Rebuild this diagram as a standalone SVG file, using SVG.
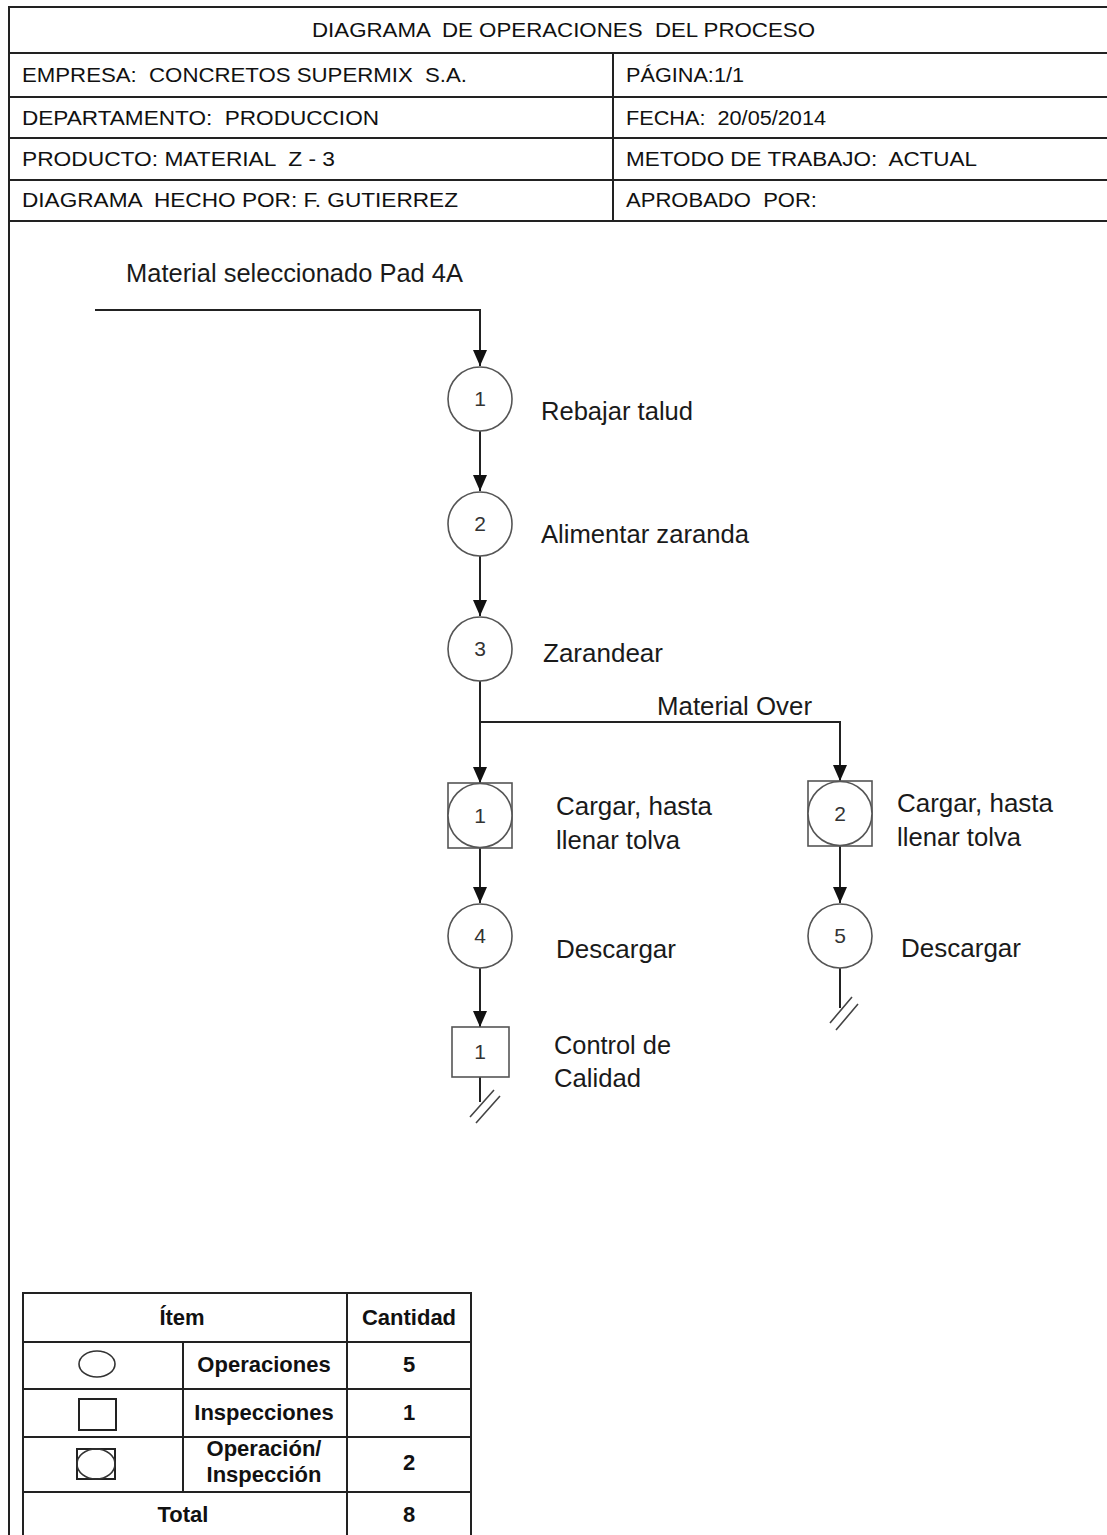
<svg xmlns="http://www.w3.org/2000/svg" width="1107" height="1535" viewBox="0 0 1107 1535">
<style>
.hd{font-family:"Liberation Sans",Arial,sans-serif;font-size:20px;fill:#111;white-space:pre}
.lb{font-family:"Liberation Sans",Arial,sans-serif;font-size:25px;fill:#1a1a1a}
.num{font-family:"Liberation Sans",Arial,sans-serif;font-size:21px;fill:#333;text-anchor:middle}
.tb{font-family:"Liberation Sans",Arial,sans-serif;font-size:22px;font-weight:bold;fill:#111;text-anchor:middle}
.frame{fill:none;stroke:#222;stroke-width:2}
.sym{fill:#fff;stroke:#555;stroke-width:1.6}
.con{fill:none;stroke:#222;stroke-width:2}
.end{fill:none;stroke:#444;stroke-width:1.6}
</style>
<defs>
<marker id="ad" markerUnits="userSpaceOnUse" markerWidth="16" markerHeight="16" viewBox="0 0 16 16" refX="8" refY="16" orient="0">
<path d="M1,0 L15,0 L8,16 Z" fill="#111"/>
</marker>
</defs>
<rect width="1107" height="1535" fill="#fff"/>

<g id="header">
<rect class="frame" x="9" y="7" width="1110" height="1540"/>
<line class="frame" x1="9" y1="53" x2="1110" y2="53"/>
<line class="frame" x1="9" y1="97" x2="1110" y2="97"/>
<line class="frame" x1="9" y1="138" x2="1110" y2="138"/>
<line class="frame" x1="9" y1="180" x2="1110" y2="180"/>
<line class="frame" x1="9" y1="221" x2="1110" y2="221"/>
<line class="frame" x1="613" y1="53" x2="613" y2="221"/>
<text class="hd" x="312" y="37" textLength="503" lengthAdjust="spacingAndGlyphs">DIAGRAMA  DE OPERACIONES  DEL PROCESO</text>
<text class="hd" x="22" y="82" textLength="445" lengthAdjust="spacingAndGlyphs">EMPRESA:  CONCRETOS SUPERMIX  S.A.</text>
<text class="hd" x="626" y="82" textLength="118" lengthAdjust="spacingAndGlyphs">PÁGINA:1/1</text>
<text class="hd" x="22" y="125" textLength="357" lengthAdjust="spacingAndGlyphs">DEPARTAMENTO:  PRODUCCION</text>
<text class="hd" x="626" y="125" textLength="200" lengthAdjust="spacingAndGlyphs">FECHA:  20/05/2014</text>
<text class="hd" x="22" y="166" textLength="313" lengthAdjust="spacingAndGlyphs">PRODUCTO: MATERIAL  Z - 3</text>
<text class="hd" x="626" y="166" textLength="351" lengthAdjust="spacingAndGlyphs">METODO DE TRABAJO:  ACTUAL</text>
<text class="hd" x="22" y="207" textLength="436" lengthAdjust="spacingAndGlyphs">DIAGRAMA  HECHO POR: F. GUTIERREZ</text>
<text class="hd" x="626" y="207" textLength="191" lengthAdjust="spacingAndGlyphs">APROBADO  POR:</text>
</g>

<g id="connectors">
<path class="con" d="M95,310 H480 V366" marker-end="url(#ad)"/>
<path class="con" d="M480,431 V491" marker-end="url(#ad)"/>
<path class="con" d="M480,556 V616" marker-end="url(#ad)"/>
<path class="con" d="M480,681 V783" marker-end="url(#ad)"/>
<path class="con" d="M480,722 H840 V781" marker-end="url(#ad)"/>
<path class="con" d="M480,848 V903" marker-end="url(#ad)"/>
<path class="con" d="M840,846 V903" marker-end="url(#ad)"/>
<path class="con" d="M480,968 V1027" marker-end="url(#ad)"/>
<path class="con" d="M480,1077 V1102"/>
<path class="con" d="M840,968 V1008"/>
<path class="end" d="M470,1117 L494,1090 M476,1123 L500,1096"/>
<path class="end" d="M830,1023 L852,997 M836,1030 L858,1004"/>
<text class="lb" x="126" y="282" textLength="337" lengthAdjust="spacingAndGlyphs">Material seleccionado Pad 4A</text>
<text class="lb" x="657" y="715" textLength="155" lengthAdjust="spacingAndGlyphs">Material Over</text>
</g>

<g id="op1">
<circle class="sym" cx="480" cy="399" r="32"/>
<text class="num" x="480" y="406">1</text>
<text class="lb" x="541" y="420" textLength="152" lengthAdjust="spacingAndGlyphs">Rebajar talud</text>
</g>
<g id="op2">
<circle class="sym" cx="480" cy="524" r="32"/>
<text class="num" x="480" y="531">2</text>
<text class="lb" x="541" y="543" textLength="208" lengthAdjust="spacingAndGlyphs">Alimentar zaranda</text>
</g>
<g id="op3">
<circle class="sym" cx="480" cy="649" r="32"/>
<text class="num" x="480" y="656">3</text>
<text class="lb" x="543" y="662" textLength="120" lengthAdjust="spacingAndGlyphs">Zarandear</text>
</g>
<g id="opinsp1">
<rect class="sym" x="448" y="783" width="64" height="65"/>
<circle class="sym" cx="480" cy="815.5" r="32"/>
<text class="num" x="480" y="823">1</text>
<text class="lb" x="556" y="815" textLength="156" lengthAdjust="spacingAndGlyphs">Cargar, hasta</text>
<text class="lb" x="556" y="849" textLength="124" lengthAdjust="spacingAndGlyphs">llenar tolva</text>
</g>
<g id="opinsp2">
<rect class="sym" x="808" y="781" width="64" height="65"/>
<circle class="sym" cx="840" cy="813.5" r="32"/>
<text class="num" x="840" y="821">2</text>
<text class="lb" x="897" y="812" textLength="156" lengthAdjust="spacingAndGlyphs">Cargar, hasta</text>
<text class="lb" x="897" y="846" textLength="124" lengthAdjust="spacingAndGlyphs">llenar tolva</text>
</g>
<g id="op4">
<circle class="sym" cx="480" cy="936" r="32"/>
<text class="num" x="480" y="943">4</text>
<text class="lb" x="556" y="958" textLength="120" lengthAdjust="spacingAndGlyphs">Descargar</text>
</g>
<g id="op5">
<circle class="sym" cx="840" cy="936" r="32"/>
<text class="num" x="840" y="943">5</text>
<text class="lb" x="901" y="957" textLength="120" lengthAdjust="spacingAndGlyphs">Descargar</text>
</g>
<g id="insp1">
<rect class="sym" x="452" y="1027" width="57" height="50"/>
<text class="num" x="480" y="1059">1</text>
<text class="lb" x="554" y="1054" textLength="117" lengthAdjust="spacingAndGlyphs">Control de</text>
<text class="lb" x="554" y="1087" textLength="87" lengthAdjust="spacingAndGlyphs">Calidad</text>
</g>

<g id="summary">
<rect class="frame" x="23" y="1293" width="448" height="260"/>
<line class="frame" x1="23" y1="1342" x2="471" y2="1342"/>
<line class="frame" x1="23" y1="1389" x2="471" y2="1389"/>
<line class="frame" x1="23" y1="1437" x2="471" y2="1437"/>
<line class="frame" x1="23" y1="1492" x2="471" y2="1492"/>
<line class="frame" x1="347" y1="1293" x2="347" y2="1540"/>
<line class="frame" x1="183" y1="1342" x2="183" y2="1492"/>
<ellipse cx="97" cy="1364" rx="18" ry="13" fill="none" stroke="#333" stroke-width="1.6"/>
<rect x="79" y="1399" width="37" height="31" fill="none" stroke="#222" stroke-width="2"/>
<rect x="77" y="1449" width="38" height="30" fill="none" stroke="#222" stroke-width="2"/>
<ellipse cx="96" cy="1464" rx="19" ry="15" fill="none" stroke="#333" stroke-width="1.6"/>
<text class="tb" x="182" y="1325">Ítem</text>
<text class="tb" x="409" y="1325">Cantidad</text>
<text class="tb" x="264" y="1372">Operaciones</text>
<text class="tb" x="409" y="1372">5</text>
<text class="tb" x="264" y="1420">Inspecciones</text>
<text class="tb" x="409" y="1420">1</text>
<text class="tb" x="264" y="1456">Operación/</text>
<text class="tb" x="264" y="1482">Inspección</text>
<text class="tb" x="409" y="1470">2</text>
<text class="tb" x="183" y="1522">Total</text>
<text class="tb" x="409" y="1522">8</text>
</g>
</svg>
